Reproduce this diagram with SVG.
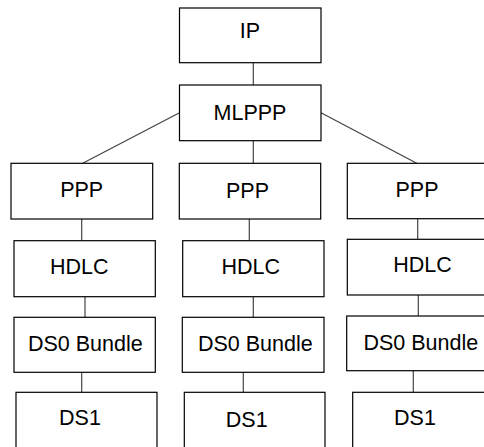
<svg xmlns="http://www.w3.org/2000/svg" width="484" height="447" viewBox="0 0 484 447">
<style>
.box{fill:#fff;stroke:#000;stroke-width:1.2}
.lbl{font-family:"Liberation Sans",Arial,sans-serif;font-size:21.5px;fill:#000;text-anchor:middle}
.con{stroke:#444;stroke-width:1.2;fill:none}
</style>
<g id="connectors">
<line class="con" x1="253.3" y1="62.7" x2="253.3" y2="85"/>
<line class="con" x1="253.3" y1="140.7" x2="253.3" y2="163.3"/>
<line class="con" x1="179.5" y1="112.7" x2="82.7" y2="163.3"/>
<line class="con" x1="321" y1="112.7" x2="416.7" y2="163.3"/>
<line class="con" x1="81.7" y1="219" x2="81.7" y2="240.7"/>
<line class="con" x1="249.3" y1="219" x2="249.3" y2="240.7"/>
<line class="con" x1="417.7" y1="218.7" x2="417.7" y2="239.3"/>
<line class="con" x1="85" y1="296.7" x2="85" y2="317.3"/>
<line class="con" x1="253.3" y1="296.7" x2="253.3" y2="317.3"/>
<line class="con" x1="418.3" y1="295" x2="418.3" y2="316"/>
<line class="con" x1="81.7" y1="372.3" x2="81.7" y2="392.3"/>
<line class="con" x1="243.3" y1="372.3" x2="243.3" y2="392.3"/>
<line class="con" x1="413.3" y1="370.7" x2="413.3" y2="392.3"/>
</g>
<g id="ip"><rect class="box" x="179.5" y="8" width="141.5" height="54.7"/><text class="lbl" x="250" y="38.3">IP</text></g>
<g id="mlppp"><rect class="box" x="179.5" y="85" width="141.5" height="55.7"/><text class="lbl" x="250" y="120">MLPPP</text></g>
<g id="ppp1"><rect class="box" x="11" y="163.3" width="141.7" height="55.7"/><text class="lbl" x="81.7" y="196.7">PPP</text></g>
<g id="ppp2"><rect class="box" x="179.3" y="163.3" width="141.4" height="55.7"/><text class="lbl" x="247.5" y="198.3">PPP</text></g>
<g id="ppp3"><rect class="box" x="347.3" y="163.3" width="141" height="55.4"/><text class="lbl" x="417" y="196.7">PPP</text></g>
<g id="hdlc1"><rect class="box" x="14" y="240.7" width="141.3" height="56"/><text class="lbl" x="79.2" y="274">HDLC</text></g>
<g id="hdlc2"><rect class="box" x="182.7" y="240.7" width="141.3" height="56"/><text class="lbl" x="250.8" y="274.3">HDLC</text></g>
<g id="hdlc3"><rect class="box" x="347.3" y="239.3" width="141" height="55.7"/><text class="lbl" x="422.5" y="271.7">HDLC</text></g>
<g id="ds0b1"><rect class="box" x="14" y="317.3" width="141.3" height="55"/><text class="lbl" x="85.3" y="351">DS0 Bundle</text></g>
<g id="ds0b2"><rect class="box" x="182.3" y="317.3" width="141.7" height="55"/><text class="lbl" x="255.3" y="351">DS0 Bundle</text></g>
<g id="ds0b3"><rect class="box" x="346.7" y="316" width="141.6" height="54.7"/><text class="lbl" x="420.8" y="350">DS0 Bundle</text></g>
<g id="ds1a"><rect class="box" x="16" y="392.3" width="141" height="60"/><text class="lbl" x="80" y="425">DS1</text></g>
<g id="ds1b"><rect class="box" x="184.3" y="392.3" width="140.7" height="60"/><text class="lbl" x="246.7" y="426.7">DS1</text></g>
<g id="ds1c"><rect class="box" x="352.7" y="392.3" width="141" height="60"/><text class="lbl" x="415" y="425">DS1</text></g>
</svg>
